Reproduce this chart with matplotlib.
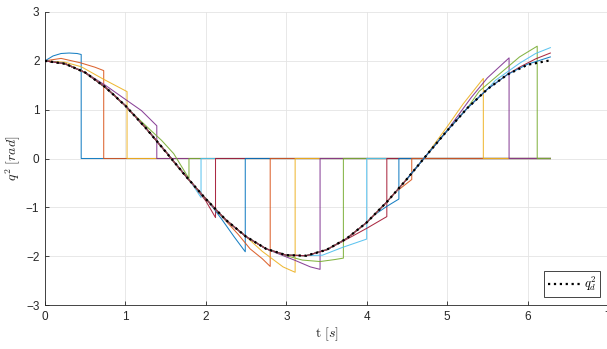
# -*- coding: utf-8 -*-
"""Joint 2 tracking: piecewise trajectories vs reference q_d^2."""
import matplotlib
matplotlib.use("Agg")
import matplotlib.pyplot as plt

OUT_PNG = "out.png"
W, H, DPI = 607, 349, 100

T_END = 6.2832

# reference q_d^2
T_REF = [0.0, 0.25, 0.5, 0.75, 1.0, 1.25, 1.5, 1.75, 2.0, 2.25, 2.5, 2.75, 3.0,
         3.25, 3.5, 3.75, 4.0, 4.25, 4.5, 4.75, 5.0, 5.25, 5.5, 5.75, 6.0, 6.25, 6.2832]
Q_REF = [2.00, 1.94, 1.76, 1.46, 1.08, 0.63, 0.14, -0.36, -0.83, -1.26, -1.60, -1.85, -1.98,
         -1.99, -1.87, -1.64, -1.31, -0.89, -0.42, 0.08, 0.57, 1.03, 1.42, 1.72, 1.92, 2.00, 2.00]

# where each run starts on the reference
START_T = [0.0] * 21 + [4.5]

# deviating tail of each run (last point = moment it drops to 0)
DEV_T = [
    [0.0, 0.1, 0.2, 0.3, 0.4, 0.45],
    [0.0, 0.2, 0.44, 0.62, 0.73],
    [0.0, 0.25, 0.45, 0.72, 1.02],
    [0.5, 0.75, 1.0, 1.2, 1.39],
    [1.1, 1.3, 1.45, 1.6, 1.79],
    [1.6, 1.8, 1.94],
    [1.85, 2.0, 2.12],
    [2.05, 2.2, 2.35, 2.49],
    [2.2, 2.4, 2.55, 2.7, 2.80],
    [2.5, 2.7, 2.96, 3.11],
    [2.9, 3.1, 3.3, 3.42],
    [3.0, 3.2, 3.42, 3.6, 3.71],
    [3.2, 3.45, 3.7, 4.00],
    [3.7, 4.0, 4.25],
    [4.1, 4.25, 4.40],
    [4.35, 4.56],
    [4.8, 5.0, 5.2, 5.45],
    [5.1, 5.3, 5.5, 5.77],
    [5.4, 5.7, 5.9, 6.12],
    [5.6, 5.9, 6.1, 6.2832],
    [5.9, 6.1, 6.2832],
    [6.0, 6.2832],
]
DEV_Q = [
    [2.00, 2.10, 2.15, 2.16, 2.15, 2.13],
    [2.00, 2.05, 1.96, 1.87, 1.80],
    [2.00, 1.97, 1.88, 1.63, 1.37],
    [1.76, 1.50, 1.21, 0.98, 0.67],
    [0.91, 0.60, 0.37, 0.10, -0.41],
    [-0.06, -0.45, -0.80],
    [-0.55, -0.87, -1.21],
    [-0.92, -1.25, -1.60, -1.91],
    [-1.19, -1.55, -1.85, -2.05, -2.21],
    [-1.60, -1.90, -2.22, -2.33],
    [-1.95, -2.08, -2.22, -2.27],
    [-1.99, -2.08, -2.11, -2.07, -2.04],
    [-1.99, -1.98, -1.82, -1.65],
    [-1.70, -1.43, -1.19],
    [-1.15, -0.98, -0.83],
    [-0.70, -0.43],
    [0.20, 0.65, 1.12, 1.64],
    [0.80, 1.25, 1.65, 2.06],
    [1.38, 1.80, 2.08, 2.30],
    [1.60, 1.95, 2.15, 2.27],
    [1.87, 2.04, 2.16],
    [1.93, 2.08],
]

COLORS = ["#0072BD", "#D95319", "#EDB120", "#7E2F8E", "#77AC30", "#4DBEEE", "#A2142F"]


def run_path(k):
    t0 = START_T[k]
    dt, dq = DEV_T[k], DEV_Q[k]
    ts = [t for t in T_REF if t0 <= t < dt[0]]
    qs = [q for t, q in zip(T_REF, Q_REF) if t0 <= t < dt[0]]
    ts += dt
    qs += dq
    if dt[-1] < T_END - 1e-3:
        ts += [dt[-1], T_END]
        qs += [0.0, 0.0]
    return ts, qs


def main():
    plt.rcParams["mathtext.fontset"] = "cm"
    plt.rcParams["font.family"] = ["Liberation Sans", "DejaVu Sans"]

    fig = plt.figure(figsize=(W / DPI, H / DPI), dpi=DPI)
    fig.patch.set_facecolor("white")
    ax = fig.add_axes([45 / W, 1 - 305 / H, (608 - 45) / W, (305 - 12) / H])

    for k in range(len(DEV_T)):
        ts, qs = run_path(k)
        ax.plot(ts, qs, color=COLORS[k % 7], lw=0.75, alpha=0.9, zorder=2)

    ax.plot(T_REF, Q_REF, color="black", ls=":", lw=1.6, zorder=3,
            label=r"$q_d^2$")

    ax.set_xlim(0, 7)
    ax.set_ylim(-3, 3)
    ax.set_xticks(range(0, 8))
    ax.set_yticks(range(-3, 4))
    ax.grid(True, color="#E4E4E4", lw=0.6)
    ax.set_axisbelow(True)
    for s in ("top", "right"):
        ax.spines[s].set_visible(False)
    for s in ("left", "bottom"):
        ax.spines[s].set_color("#262626")
        ax.spines[s].set_linewidth(0.6)
    ax.tick_params(direction="in", length=3, width=0.6, colors="#262626",
                   labelsize=8.5, pad=4)

    ax.set_xlabel(r"$\mathrm{t}\ [s]$", fontsize=10, color="#262626", labelpad=2)
    ax.set_ylabel(r"$q^2\ [rad]$", fontsize=10, color="#262626", labelpad=2)

    leg = ax.legend(loc="lower right", bbox_to_anchor=(0.986, 0.027),
                    fancybox=False, framealpha=1, edgecolor="#262626",
                    fontsize=9, handlelength=2.6, borderpad=0.3,
                    handletextpad=0.3, borderaxespad=0)
    leg.get_frame().set_linewidth(0.6)

    fig.savefig(OUT_PNG, dpi=DPI, facecolor="white")
    plt.close(fig)


if __name__ == "__main__":
    main()
